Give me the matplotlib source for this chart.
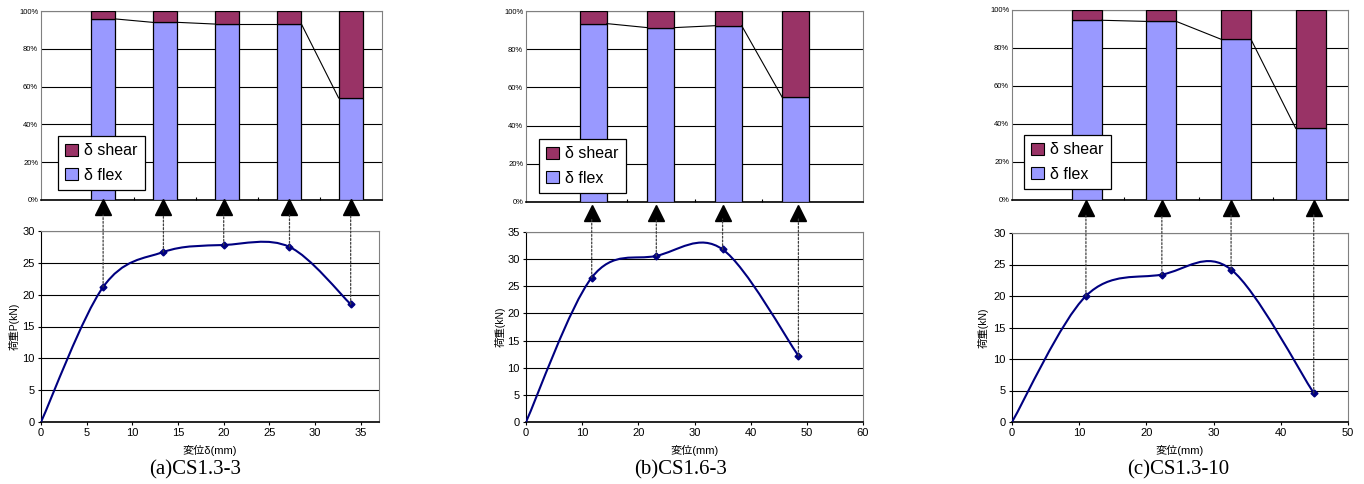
import numpy as np
import matplotlib
matplotlib.use('Agg')
import matplotlib.pyplot as plt
from matplotlib.path import Path
from matplotlib.patches import PathPatch, Patch, ConnectionPatch
from matplotlib.transforms import blended_transform_factory

plt.rcParams['font.family'] = ['Liberation Sans', 'Noto Sans CJK JP', 'DejaVu Sans']

# (a) CS1.3-3 : load-displacement points and flexural share at each point (%)
disp_a = [0, 6.8, 13.4, 20.0, 27.2, 33.9]
load_a = [0, 21.2, 26.7, 27.8, 27.5, 18.5]
flex_a = [95.8, 94.0, 93.1, 93.1, 54.0]

# (b) CS1.6-3
disp_b = [0, 11.7, 23.2, 35.0, 48.5]
load_b = [0, 26.6, 30.6, 31.8, 12.2]
flex_b = [93.4, 91.3, 92.3, 54.9]

# (c) CS1.3-10
disp_c = [0, 11.0, 22.3, 32.6, 44.9]
load_c = [0, 20.0, 23.4, 24.2, 4.6]
flex_c = [94.6, 94.0, 84.6, 37.7]

captions = ['(a)CS1.3-3', '(b)CS1.6-3', '(c)CS1.3-10']
ylabels = ['荷重P(kN)', '荷重(kN)', '荷重(kN)']
xlabels = ['変位δ(mm)', '変位(mm)', '変位(mm)']

FLEX = '#9999ff'
SHEAR = '#993366'
LINE = '#000080'

W, H = 1364, 484
fig = plt.figure(figsize=(W / 100, H / 100), dpi=100)


def box(l, r, t, b):
    # pixel box -> figure fraction rect
    return [l / W, 1 - b / H, (r - l) / W, (b - t) / H]


def smooth_path(x, y):
    # Excel style smoothed line (Bezier through the data points)
    p = np.column_stack([x, y])
    n = len(p)
    verts = [p[0]]
    codes = [Path.MOVETO]
    for i in range(n - 1):
        p0 = p[max(i - 1, 0)]
        p1 = p[i]
        p2 = p[i + 1]
        p3 = p[min(i + 2, n - 1)]
        verts += [p1 + (p2 - p0) / 6, p2 - (p3 - p1) / 6, p2]
        codes += [Path.CURVE4] * 3
    return Path(verts, codes)


def panel(disp, load, flex, top_box, bot_box, bar_xmax, xmax, xstep, ymax,
          tri_y, base_y, leg_xy, caption, cap_x, ylab, ylab_x, xlab):
    n = len(flex)
    cats = np.arange(1, n + 1)
    shear = [100 - f for f in flex]

    # ---- top: stacked ratio bars
    ax1 = fig.add_axes(box(*top_box))
    ax1.bar(cats, flex, 0.4, color=FLEX, edgecolor='black', lw=0.9, zorder=3)
    ax1.bar(cats, shear, 0.4, bottom=flex, color=SHEAR, edgecolor='black', lw=0.9, zorder=3)
    for i in range(n - 1):
        ax1.plot([cats[i] + 0.2, cats[i + 1] - 0.2], [flex[i], flex[i + 1]],
                 color='black', lw=0.8, zorder=4)
    ax1.set_xlim(0, bar_xmax)
    ax1.set_ylim(0, 100)
    ax1.set_yticks(np.arange(0, 101, 20))
    ax1.set_yticklabels(['%d%%' % v for v in range(0, 101, 20)])
    ax1.set_xticks(np.arange(1.5, n, 1))
    ax1.set_xticklabels([])
    ax1.tick_params(axis='y', labelsize=5.5, length=0, pad=2)
    ax1.tick_params(axis='x', length=2, direction='in')
    ax1.yaxis.grid(True, color='black', lw=0.8)
    ax1.set_axisbelow(True)
    for s in ['top', 'right']:
        ax1.spines[s].set_color('#808080')
    ax1.spines['left'].set_color('#808080')
    ax1.spines['bottom'].set_lw(1.2)
    handles = [Patch(facecolor=SHEAR, edgecolor='black', lw=0.8, label='δ shear'),
               Patch(facecolor=FLEX, edgecolor='black', lw=0.8, label='δ flex')]
    leg = ax1.legend(handles=handles, loc='lower left',
                     bbox_to_anchor=(leg_xy[0] / W, 1 - leg_xy[1] / H),
                     bbox_transform=fig.transFigure, fontsize=11.5,
                     frameon=True, fancybox=False, framealpha=1,
                     handlelength=0.8, handleheight=0.8, handletextpad=0.4,
                     labelspacing=0.6, borderpad=0.45, borderaxespad=0)
    leg.get_frame().set_edgecolor('black')
    leg.get_frame().set_linewidth(0.9)
    leg.set_zorder(6)

    # ---- bottom: load-displacement curve
    ax2 = fig.add_axes(box(*bot_box))
    ax2.add_patch(PathPatch(smooth_path(disp, load), fill=False,
                            edgecolor=LINE, lw=1.5, zorder=3))
    ax2.plot(disp[1:], load[1:], ls='none', marker='D', ms=3.5,
             color=LINE, zorder=4)
    ax2.set_xlim(0, xmax)
    ax2.set_ylim(0, ymax)
    ax2.set_xticks(np.arange(0, xmax + 0.1, xstep))
    ax2.set_yticks(np.arange(0, ymax + 0.1, 5))
    ax2.tick_params(labelsize=8, length=2.5, pad=2)
    ax2.yaxis.grid(True, color='black', lw=0.8)
    ax2.set_axisbelow(True)
    for s in ['top', 'right']:
        ax2.spines[s].set_color('#808080')
    ax2.spines['bottom'].set_lw(1.2)

    # arrows linking points to bars
    tr = blended_transform_factory(ax2.transData, fig.transFigure)
    for xv, yv in zip(disp[1:], load[1:]):
        ax2.plot([xv], [1 - tri_y / H], marker='^', ms=11, color='black',
                 transform=tr, clip_on=False)
        con = ConnectionPatch(xyA=(xv, yv), coordsA=ax2.transData,
                              xyB=(xv, 1 - base_y / H), coordsB=tr,
                              ls=(0, (1.5, 1.5)), color='#404040', lw=0.9)
        fig.add_artist(con)

    fig.text(ylab_x / W, 1 - ((bot_box[2] + bot_box[3]) / 2) / H, ylab,
             rotation=90, ha='center', va='center', fontsize=7.5)
    fig.text(((bot_box[0] + bot_box[1]) / 2) / W, 1 - 450 / H, xlab,
             ha='center', va='center', fontsize=8)
    fig.text(cap_x / W, 1 - 470 / H, caption, ha='center', va='center',
             fontsize=15, family='Liberation Serif')


panel(disp_a, load_a, flex_a, (41, 382, 11, 200), (41, 379, 231, 422), 5.5, 37, 5, 30,
      207.5, 215, (58, 190), captions[0], 195, ylabels[0], 14, xlabels[0])
panel(disp_b, load_b, flex_b, (526, 863, 11, 202), (526, 863, 232, 422), 5, 60, 10, 35,
      212.5, 219, (539, 193), captions[1], 681, ylabels[1], 500, xlabels[1])
panel(disp_c, load_c, flex_c, (1012, 1348, 10, 200), (1012, 1348, 233, 422), 4.5, 50, 10, 30,
      208, 215, (1024, 189), captions[2], 1178, ylabels[2], 983, xlabels[2])

fig.savefig('out.png', dpi=100)
